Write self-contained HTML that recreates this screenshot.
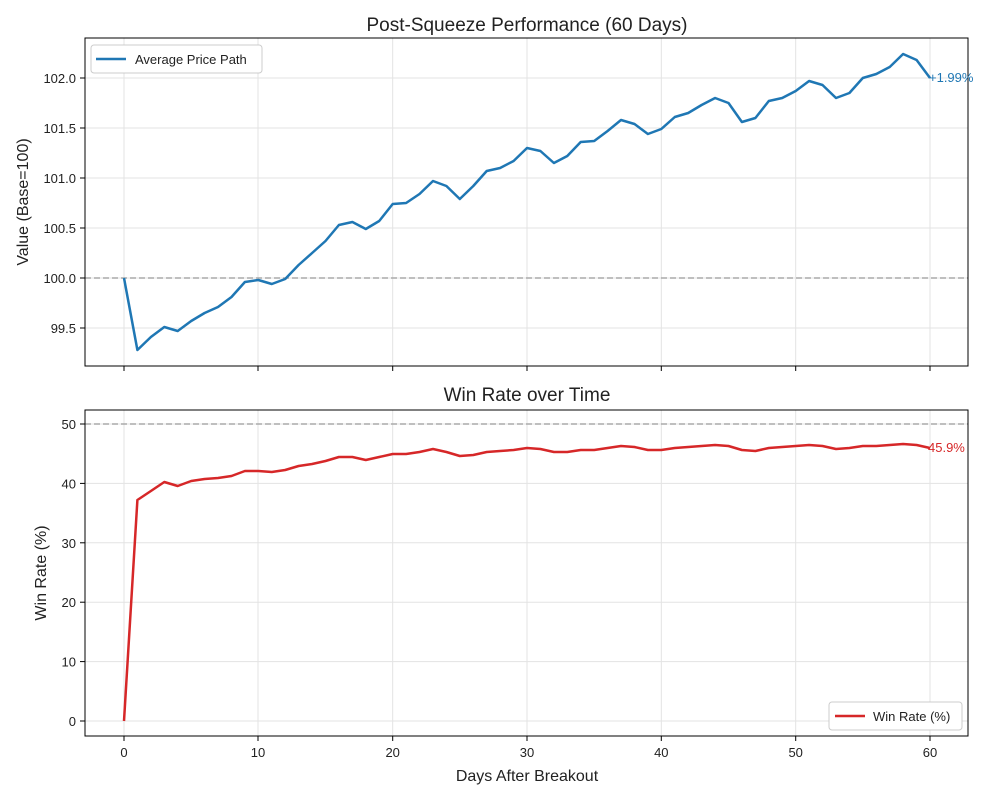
<!DOCTYPE html>
<html><head><meta charset="utf-8"><style>
body{margin:0;background:#fff}
svg text{font-family:"Liberation Sans","DejaVu Sans",sans-serif;fill:#222}
</style></head><body>
<svg width="1000" height="800" xmlns="http://www.w3.org/2000/svg">
<rect width="1000" height="800" fill="#fff"/>
<g id="grid" stroke="#e3e3e3" stroke-width="1">
<line x1="124" y1="38" x2="124" y2="366"/><line x1="258" y1="38" x2="258" y2="366"/><line x1="392.7" y1="38" x2="392.7" y2="366"/><line x1="527" y1="38" x2="527" y2="366"/><line x1="661.3" y1="38" x2="661.3" y2="366"/><line x1="795.7" y1="38" x2="795.7" y2="366"/><line x1="930" y1="38" x2="930" y2="366"/>
<line x1="85" y1="328" x2="968" y2="328"/><line x1="85" y1="278" x2="968" y2="278"/><line x1="85" y1="228" x2="968" y2="228"/><line x1="85" y1="178" x2="968" y2="178"/><line x1="85" y1="128" x2="968" y2="128"/><line x1="85" y1="78" x2="968" y2="78"/>
<line x1="124" y1="410" x2="124" y2="736"/><line x1="258" y1="410" x2="258" y2="736"/><line x1="392.7" y1="410" x2="392.7" y2="736"/><line x1="527" y1="410" x2="527" y2="736"/><line x1="661.3" y1="410" x2="661.3" y2="736"/><line x1="795.7" y1="410" x2="795.7" y2="736"/><line x1="930" y1="410" x2="930" y2="736"/>
<line x1="85" y1="721" x2="968" y2="721"/><line x1="85" y1="661.6" x2="968" y2="661.6"/><line x1="85" y1="602.2" x2="968" y2="602.2"/><line x1="85" y1="542.8" x2="968" y2="542.8"/><line x1="85" y1="483.4" x2="968" y2="483.4"/><line x1="85" y1="424" x2="968" y2="424"/>
</g>
<line x1="85" y1="278" x2="968" y2="278" stroke="#aaa" stroke-width="1.5" stroke-dasharray="6,3"/>
<line x1="85" y1="424" x2="968" y2="424" stroke="#aaa" stroke-width="1.5" stroke-dasharray="6,3"/>
<polyline fill="none" stroke="#1f77b4" stroke-width="2.5" stroke-linejoin="round" points="124,278 137.4,350 150.9,337 164.3,327 177.7,331 191.2,321 204.6,313 218,307 231.5,297 244.9,282 258.3,280 271.8,284 285.2,279 298.6,265 312.1,253 325.5,241 338.9,225 352.4,222 365.8,229 379.2,221 392.7,204 406.1,203 419.5,194 433,181 446.4,186 459.8,199 473.3,186 486.7,171 500.1,168 513.6,161 527,148 540.4,151 553.9,163 567.3,156 580.7,142 594.2,141 607.6,131 621,120 634.5,124 647.9,134 661.3,129 674.8,117 688.2,113 701.6,105 715.1,98 728.5,103 741.9,122 755.4,118 768.8,101 782.2,98 795.7,91 809.1,81 822.5,85 836,98 849.4,93 862.8,78 876.3,74 889.7,67 903.1,54 916.6,60 930,78"/>
<polyline fill="none" stroke="#d62728" stroke-width="2.5" stroke-linejoin="round" points="124,721 137.4,500 150.9,491 164.3,482 177.7,486 191.2,481 204.6,479 218,478 231.5,476 244.9,471 258.3,471 271.8,472 285.2,470 298.6,466 312.1,464 325.5,461 338.9,457 352.4,457 365.8,460 379.2,457 392.7,454 406.1,454 419.5,452 433,449 446.4,452 459.8,456 473.3,455 486.7,452 500.1,451 513.6,450 527,448 540.4,449 553.9,452 567.3,452 580.7,450 594.2,450 607.6,448 621,446 634.5,447 647.9,450 661.3,450 674.8,448 688.2,447 701.6,446 715.1,445 728.5,446 741.9,450 755.4,451 768.8,448 782.2,447 795.7,446 809.1,445 822.5,446 836,449 849.4,448 862.8,446 876.3,446 889.7,445 903.1,444 916.6,445 930,448"/>
<rect x="85" y="38" width="883" height="328" fill="none" stroke="#000" stroke-width="1"/>
<rect x="85" y="410" width="883" height="326" fill="none" stroke="#000" stroke-width="1"/>
<g stroke="#000">
<line x1="124" y1="366" x2="124" y2="371"/><line x1="258" y1="366" x2="258" y2="371"/><line x1="392.7" y1="366" x2="392.7" y2="371"/><line x1="527" y1="366" x2="527" y2="371"/><line x1="661.3" y1="366" x2="661.3" y2="371"/><line x1="795.7" y1="366" x2="795.7" y2="371"/><line x1="930" y1="366" x2="930" y2="371"/>
<line x1="124" y1="736" x2="124" y2="741"/><line x1="258" y1="736" x2="258" y2="741"/><line x1="392.7" y1="736" x2="392.7" y2="741"/><line x1="527" y1="736" x2="527" y2="741"/><line x1="661.3" y1="736" x2="661.3" y2="741"/><line x1="795.7" y1="736" x2="795.7" y2="741"/><line x1="930" y1="736" x2="930" y2="741"/>
<line x1="80" y1="328" x2="85" y2="328"/><line x1="80" y1="278" x2="85" y2="278"/><line x1="80" y1="228" x2="85" y2="228"/><line x1="80" y1="178" x2="85" y2="178"/><line x1="80" y1="128" x2="85" y2="128"/><line x1="80" y1="78" x2="85" y2="78"/>
<line x1="80" y1="721" x2="85" y2="721"/><line x1="80" y1="661.6" x2="85" y2="661.6"/><line x1="80" y1="602.2" x2="85" y2="602.2"/><line x1="80" y1="542.8" x2="85" y2="542.8"/><line x1="80" y1="483.4" x2="85" y2="483.4"/><line x1="80" y1="424" x2="85" y2="424"/>
</g>
<g font-size="13" text-anchor="end">
<text x="76" y="333">99.5</text><text x="76" y="283">100.0</text><text x="76" y="233">100.5</text><text x="76" y="183">101.0</text><text x="76" y="133">101.5</text><text x="76" y="83">102.0</text>
<text x="76" y="726">0</text><text x="76" y="666.6">10</text><text x="76" y="607.2">20</text><text x="76" y="547.8">30</text><text x="76" y="488.4">40</text><text x="76" y="429">50</text>
</g>
<g font-size="13" text-anchor="middle">
<text x="124" y="757">0</text><text x="258" y="757">10</text><text x="392.7" y="757">20</text><text x="527" y="757">30</text><text x="661.3" y="757">40</text><text x="795.7" y="757">50</text><text x="930" y="757">60</text>
</g>
<text x="527" y="31" font-size="19" text-anchor="middle">Post-Squeeze Performance (60 Days)</text>
<text x="527" y="401" font-size="19" text-anchor="middle">Win Rate over Time</text>
<text x="527" y="781" font-size="16" text-anchor="middle">Days After Breakout</text>
<text transform="translate(28,202) rotate(-90)" font-size="16" text-anchor="middle">Value (Base=100)</text>
<text transform="translate(46,573) rotate(-90)" font-size="16" text-anchor="middle">Win Rate (%)</text>
<text x="929" y="82" font-size="13" fill="#1f77b4" style="fill:#1f77b4">+1.99%</text>
<text x="928" y="452" font-size="13" style="fill:#d62728">45.9%</text>
<rect x="91" y="45" width="171" height="28" rx="3" fill="#fff" stroke="#ccc"/>
<line x1="96" y1="59" x2="126" y2="59" stroke="#1f77b4" stroke-width="2.5"/>
<text x="135" y="64" font-size="13">Average Price Path</text>
<rect x="829" y="702" width="133" height="28" rx="3" fill="#fff" stroke="#ccc"/>
<line x1="835" y1="716" x2="865" y2="716" stroke="#d62728" stroke-width="2.5"/>
<text x="873" y="721" font-size="13">Win Rate (%)</text>
</svg>
</body></html>
